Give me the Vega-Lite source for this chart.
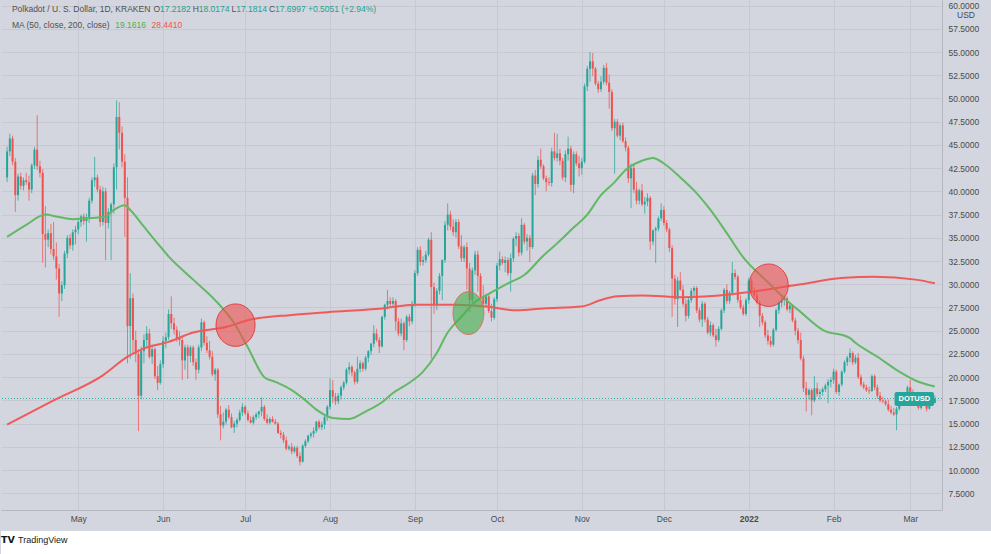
{
"$schema":"https://vega.github.io/schema/vega-lite/v6.json",
"background":"#d3d6de",
"padding":0,
"spacing":21,
"bounds":"flush",
"config":{"view":{"stroke":null},"font":"Liberation Sans","axis":{"labelFont":"Liberation Sans","titleFont":"Liberation Sans","labelOverlap":false}},
"datasets":{
"candles":[
{"t":"2021-04-05","o":41.5,"h":44.8,"l":41.0,"c":44.3},
{"t":"2021-04-06","o":44.3,"h":46.2,"l":43.8,"c":45.7},
{"t":"2021-04-07","o":45.7,"h":46.0,"l":42.8,"c":43.2},
{"t":"2021-04-08","o":43.2,"h":43.6,"l":37.8,"c":39.6},
{"t":"2021-04-09","o":39.6,"h":41.9,"l":39.0,"c":41.6},
{"t":"2021-04-10","o":41.6,"h":42.0,"l":40.2,"c":40.6},
{"t":"2021-04-11","o":40.6,"h":41.5,"l":40.1,"c":41.2},
{"t":"2021-04-12","o":41.2,"h":42.0,"l":40.7,"c":41.0},
{"t":"2021-04-13","o":41.0,"h":41.7,"l":39.0,"c":40.2},
{"t":"2021-04-14","o":40.2,"h":43.0,"l":39.8,"c":42.8},
{"t":"2021-04-15","o":42.8,"h":44.8,"l":42.4,"c":44.5},
{"t":"2021-04-16","o":44.5,"h":48.2,"l":42.3,"c":42.7},
{"t":"2021-04-17","o":42.7,"h":43.3,"l":41.5,"c":42.0},
{"t":"2021-04-18","o":42.0,"h":42.4,"l":32.3,"c":35.4},
{"t":"2021-04-19","o":35.4,"h":38.4,"l":31.8,"c":34.8},
{"t":"2021-04-20","o":34.8,"h":35.9,"l":34.0,"c":35.5},
{"t":"2021-04-21","o":35.5,"h":36.5,"l":33.2,"c":33.8},
{"t":"2021-04-22","o":33.8,"h":36.7,"l":32.6,"c":33.0},
{"t":"2021-04-23","o":33.0,"h":34.5,"l":30.5,"c":31.7},
{"t":"2021-04-24","o":31.7,"h":32.2,"l":26.5,"c":29.0},
{"t":"2021-04-25","o":29.0,"h":30.3,"l":28.2,"c":29.9},
{"t":"2021-04-26","o":29.9,"h":33.6,"l":29.5,"c":33.3},
{"t":"2021-04-27","o":33.3,"h":35.3,"l":32.8,"c":35.0},
{"t":"2021-04-28","o":35.0,"h":35.4,"l":33.8,"c":34.2},
{"t":"2021-04-29","o":34.2,"h":35.9,"l":33.6,"c":35.6},
{"t":"2021-04-30","o":35.6,"h":36.3,"l":34.3,"c":35.9},
{"t":"2021-05-01","o":35.9,"h":36.9,"l":35.4,"c":36.7},
{"t":"2021-05-02","o":36.7,"h":37.5,"l":36.2,"c":37.3},
{"t":"2021-05-03","o":37.3,"h":37.6,"l":36.4,"c":36.8},
{"t":"2021-05-04","o":36.8,"h":37.6,"l":34.6,"c":37.2},
{"t":"2021-05-05","o":37.2,"h":39.3,"l":36.6,"c":39.0},
{"t":"2021-05-06","o":39.0,"h":41.5,"l":38.7,"c":41.2},
{"t":"2021-05-07","o":41.2,"h":43.7,"l":40.5,"c":41.5},
{"t":"2021-05-08","o":41.5,"h":41.8,"l":39.9,"c":40.2},
{"t":"2021-05-09","o":40.2,"h":40.6,"l":36.2,"c":36.7},
{"t":"2021-05-10","o":36.7,"h":40.5,"l":36.3,"c":40.0},
{"t":"2021-05-11","o":40.0,"h":40.4,"l":32.6,"c":36.6},
{"t":"2021-05-12","o":36.6,"h":38.2,"l":36.0,"c":37.8},
{"t":"2021-05-13","o":37.8,"h":38.8,"l":32.6,"c":38.6},
{"t":"2021-05-14","o":38.6,"h":43.0,"l":37.6,"c":42.6},
{"t":"2021-05-15","o":42.6,"h":49.8,"l":40.2,"c":48.0},
{"t":"2021-05-16","o":48.0,"h":49.6,"l":44.5,"c":46.3},
{"t":"2021-05-17","o":46.3,"h":47.0,"l":42.6,"c":43.2},
{"t":"2021-05-18","o":43.2,"h":44.0,"l":35.1,"c":39.3},
{"t":"2021-05-19","o":39.3,"h":41.5,"l":21.5,"c":25.5},
{"t":"2021-05-20","o":25.5,"h":31.2,"l":22.0,"c":28.5},
{"t":"2021-05-21","o":28.5,"h":29.0,"l":22.5,"c":24.0},
{"t":"2021-05-22","o":24.0,"h":25.0,"l":21.6,"c":22.5},
{"t":"2021-05-23","o":22.5,"h":23.0,"l":14.2,"c":18.0},
{"t":"2021-05-24","o":18.0,"h":23.3,"l":17.6,"c":22.8},
{"t":"2021-05-25","o":22.8,"h":24.6,"l":21.5,"c":24.0},
{"t":"2021-05-26","o":24.0,"h":25.5,"l":23.3,"c":24.7},
{"t":"2021-05-27","o":24.7,"h":25.2,"l":22.0,"c":22.2},
{"t":"2021-05-28","o":22.2,"h":23.5,"l":21.4,"c":23.0},
{"t":"2021-05-29","o":23.0,"h":23.2,"l":19.8,"c":20.1},
{"t":"2021-05-30","o":20.1,"h":21.2,"l":18.6,"c":19.4},
{"t":"2021-05-31","o":19.4,"h":21.8,"l":19.2,"c":21.4},
{"t":"2021-06-01","o":21.4,"h":24.4,"l":21.0,"c":23.9},
{"t":"2021-06-02","o":23.9,"h":24.8,"l":23.1,"c":24.3},
{"t":"2021-06-03","o":24.3,"h":27.3,"l":24.0,"c":26.8},
{"t":"2021-06-04","o":26.8,"h":28.7,"l":25.2,"c":25.8},
{"t":"2021-06-05","o":25.8,"h":26.4,"l":24.6,"c":25.1},
{"t":"2021-06-06","o":25.1,"h":25.5,"l":23.8,"c":24.2},
{"t":"2021-06-07","o":24.2,"h":24.9,"l":23.4,"c":24.0},
{"t":"2021-06-08","o":24.0,"h":24.3,"l":19.7,"c":21.8},
{"t":"2021-06-09","o":21.8,"h":23.5,"l":20.8,"c":23.2},
{"t":"2021-06-10","o":23.2,"h":23.5,"l":19.8,"c":22.3},
{"t":"2021-06-11","o":22.3,"h":23.4,"l":21.6,"c":23.2},
{"t":"2021-06-12","o":23.2,"h":23.4,"l":21.2,"c":21.6},
{"t":"2021-06-13","o":21.6,"h":22.0,"l":19.7,"c":20.8},
{"t":"2021-06-14","o":20.8,"h":23.5,"l":20.4,"c":23.2},
{"t":"2021-06-15","o":23.2,"h":26.3,"l":22.8,"c":25.9},
{"t":"2021-06-16","o":25.9,"h":26.1,"l":23.4,"c":23.7},
{"t":"2021-06-17","o":23.7,"h":24.4,"l":22.6,"c":22.9},
{"t":"2021-06-18","o":22.9,"h":23.9,"l":21.9,"c":22.2},
{"t":"2021-06-19","o":22.2,"h":22.8,"l":20.1,"c":20.3},
{"t":"2021-06-20","o":20.3,"h":21.0,"l":19.6,"c":20.8},
{"t":"2021-06-21","o":20.8,"h":21.0,"l":15.6,"c":16.0},
{"t":"2021-06-22","o":16.0,"h":16.9,"l":13.2,"c":14.8},
{"t":"2021-06-23","o":14.8,"h":16.2,"l":14.5,"c":15.2},
{"t":"2021-06-24","o":15.2,"h":16.7,"l":14.9,"c":16.5},
{"t":"2021-06-25","o":16.5,"h":17.0,"l":15.5,"c":15.7},
{"t":"2021-06-26","o":15.7,"h":16.1,"l":14.5,"c":14.6},
{"t":"2021-06-27","o":14.6,"h":15.3,"l":14.0,"c":15.0},
{"t":"2021-06-28","o":15.0,"h":15.6,"l":14.6,"c":15.4},
{"t":"2021-06-29","o":15.4,"h":16.5,"l":15.2,"c":16.2},
{"t":"2021-06-30","o":16.2,"h":17.2,"l":15.8,"c":16.8},
{"t":"2021-07-01","o":16.8,"h":17.0,"l":15.9,"c":16.1},
{"t":"2021-07-02","o":16.1,"h":16.4,"l":15.2,"c":15.4},
{"t":"2021-07-03","o":15.4,"h":15.8,"l":15.0,"c":15.1},
{"t":"2021-07-04","o":15.1,"h":15.9,"l":14.9,"c":15.7},
{"t":"2021-07-05","o":15.7,"h":16.2,"l":15.4,"c":16.0},
{"t":"2021-07-06","o":16.0,"h":16.4,"l":15.6,"c":16.3},
{"t":"2021-07-07","o":16.3,"h":17.8,"l":15.8,"c":16.8},
{"t":"2021-07-08","o":16.8,"h":17.0,"l":15.3,"c":15.5},
{"t":"2021-07-09","o":15.5,"h":16.0,"l":14.9,"c":15.1},
{"t":"2021-07-10","o":15.1,"h":15.7,"l":14.9,"c":15.5},
{"t":"2021-07-11","o":15.5,"h":15.8,"l":15.1,"c":15.2},
{"t":"2021-07-12","o":15.2,"h":15.5,"l":14.9,"c":15.0},
{"t":"2021-07-13","o":15.0,"h":15.2,"l":13.9,"c":14.0},
{"t":"2021-07-14","o":14.0,"h":14.3,"l":13.4,"c":13.8},
{"t":"2021-07-15","o":13.8,"h":14.1,"l":12.9,"c":13.2},
{"t":"2021-07-16","o":13.2,"h":13.6,"l":12.1,"c":12.3},
{"t":"2021-07-17","o":12.3,"h":12.7,"l":12.1,"c":12.5},
{"t":"2021-07-18","o":12.5,"h":12.9,"l":11.7,"c":12.0},
{"t":"2021-07-19","o":12.0,"h":12.6,"l":11.8,"c":12.4},
{"t":"2021-07-20","o":12.4,"h":12.6,"l":11.3,"c":11.5},
{"t":"2021-07-21","o":11.5,"h":11.9,"l":10.5,"c":10.9},
{"t":"2021-07-22","o":10.9,"h":12.8,"l":10.8,"c":12.6},
{"t":"2021-07-23","o":12.6,"h":13.3,"l":12.4,"c":13.1},
{"t":"2021-07-24","o":13.1,"h":13.8,"l":12.9,"c":13.7},
{"t":"2021-07-25","o":13.7,"h":14.1,"l":13.4,"c":13.9},
{"t":"2021-07-26","o":13.9,"h":14.6,"l":13.5,"c":14.2},
{"t":"2021-07-27","o":14.2,"h":15.3,"l":14.0,"c":15.2},
{"t":"2021-07-28","o":15.2,"h":15.4,"l":14.4,"c":14.6},
{"t":"2021-07-29","o":14.6,"h":15.2,"l":14.3,"c":14.9},
{"t":"2021-07-30","o":14.9,"h":15.9,"l":14.4,"c":15.7},
{"t":"2021-07-31","o":15.7,"h":17.0,"l":15.3,"c":16.8},
{"t":"2021-08-01","o":16.8,"h":19.9,"l":16.5,"c":18.6},
{"t":"2021-08-02","o":18.6,"h":19.7,"l":17.2,"c":17.9},
{"t":"2021-08-03","o":17.9,"h":18.3,"l":17.0,"c":17.4},
{"t":"2021-08-04","o":17.4,"h":18.3,"l":17.1,"c":18.0},
{"t":"2021-08-05","o":18.0,"h":19.1,"l":17.6,"c":18.9},
{"t":"2021-08-06","o":18.9,"h":19.6,"l":18.6,"c":19.4},
{"t":"2021-08-07","o":19.4,"h":21.0,"l":19.2,"c":20.8},
{"t":"2021-08-08","o":20.8,"h":21.6,"l":20.3,"c":21.1},
{"t":"2021-08-09","o":21.1,"h":21.3,"l":20.1,"c":20.5},
{"t":"2021-08-10","o":20.5,"h":20.7,"l":19.2,"c":19.5},
{"t":"2021-08-11","o":19.5,"h":22.2,"l":19.3,"c":20.9},
{"t":"2021-08-12","o":20.9,"h":21.8,"l":20.5,"c":21.5},
{"t":"2021-08-13","o":21.5,"h":21.7,"l":20.6,"c":20.9},
{"t":"2021-08-14","o":20.9,"h":22.3,"l":20.7,"c":22.1},
{"t":"2021-08-15","o":22.1,"h":22.9,"l":21.6,"c":22.8},
{"t":"2021-08-16","o":22.8,"h":23.7,"l":22.4,"c":23.6},
{"t":"2021-08-17","o":23.6,"h":25.6,"l":23.2,"c":24.7},
{"t":"2021-08-18","o":24.7,"h":25.2,"l":23.8,"c":24.0},
{"t":"2021-08-19","o":24.0,"h":24.3,"l":22.6,"c":23.3},
{"t":"2021-08-20","o":23.3,"h":26.6,"l":23.2,"c":26.5},
{"t":"2021-08-21","o":26.5,"h":27.9,"l":26.2,"c":27.8},
{"t":"2021-08-22","o":27.8,"h":29.4,"l":27.3,"c":28.2},
{"t":"2021-08-23","o":28.2,"h":28.6,"l":27.5,"c":27.9},
{"t":"2021-08-24","o":27.9,"h":28.6,"l":27.5,"c":28.2},
{"t":"2021-08-25","o":28.2,"h":28.4,"l":25.0,"c":26.0},
{"t":"2021-08-26","o":26.0,"h":26.4,"l":24.4,"c":24.7},
{"t":"2021-08-27","o":24.7,"h":26.3,"l":24.4,"c":25.8},
{"t":"2021-08-28","o":25.8,"h":26.0,"l":22.9,"c":24.0},
{"t":"2021-08-29","o":24.0,"h":26.7,"l":23.8,"c":26.5},
{"t":"2021-08-30","o":26.5,"h":26.8,"l":25.5,"c":26.0},
{"t":"2021-08-31","o":26.0,"h":28.2,"l":25.7,"c":27.9},
{"t":"2021-09-01","o":27.9,"h":31.5,"l":27.6,"c":31.2},
{"t":"2021-09-02","o":31.2,"h":34.0,"l":30.9,"c":33.7},
{"t":"2021-09-03","o":33.7,"h":34.1,"l":32.0,"c":32.4},
{"t":"2021-09-04","o":32.4,"h":33.0,"l":32.0,"c":32.6},
{"t":"2021-09-05","o":32.6,"h":33.6,"l":32.3,"c":33.2},
{"t":"2021-09-06","o":33.2,"h":35.0,"l":33.0,"c":34.8},
{"t":"2021-09-07","o":34.8,"h":35.6,"l":22.0,"c":29.7},
{"t":"2021-09-08","o":29.7,"h":30.2,"l":26.8,"c":27.8},
{"t":"2021-09-09","o":27.8,"h":29.6,"l":27.2,"c":29.3},
{"t":"2021-09-10","o":29.3,"h":31.2,"l":28.9,"c":30.9},
{"t":"2021-09-11","o":30.9,"h":32.7,"l":28.3,"c":32.6},
{"t":"2021-09-12","o":32.6,"h":36.8,"l":32.3,"c":36.4},
{"t":"2021-09-13","o":36.4,"h":38.7,"l":35.8,"c":37.5},
{"t":"2021-09-14","o":37.5,"h":37.9,"l":35.8,"c":36.2},
{"t":"2021-09-15","o":36.2,"h":37.0,"l":35.2,"c":35.6},
{"t":"2021-09-16","o":35.6,"h":37.0,"l":35.0,"c":36.7},
{"t":"2021-09-17","o":36.7,"h":37.0,"l":33.8,"c":34.1},
{"t":"2021-09-18","o":34.1,"h":35.3,"l":32.4,"c":32.8},
{"t":"2021-09-19","o":32.8,"h":34.2,"l":32.4,"c":34.0},
{"t":"2021-09-20","o":34.0,"h":34.5,"l":29.4,"c":31.7},
{"t":"2021-09-21","o":31.7,"h":32.3,"l":27.0,"c":28.3},
{"t":"2021-09-22","o":28.3,"h":31.8,"l":28.0,"c":31.5},
{"t":"2021-09-23","o":31.5,"h":33.6,"l":31.0,"c":33.2},
{"t":"2021-09-24","o":33.2,"h":33.6,"l":29.2,"c":30.9},
{"t":"2021-09-25","o":30.9,"h":31.2,"l":28.3,"c":28.6},
{"t":"2021-09-26","o":28.6,"h":29.9,"l":27.5,"c":27.9},
{"t":"2021-09-27","o":27.9,"h":29.0,"l":27.6,"c":28.7},
{"t":"2021-09-28","o":28.7,"h":28.9,"l":26.9,"c":27.1},
{"t":"2021-09-29","o":27.1,"h":27.9,"l":26.0,"c":26.4},
{"t":"2021-09-30","o":26.4,"h":28.6,"l":26.2,"c":28.4},
{"t":"2021-10-01","o":28.4,"h":32.3,"l":28.1,"c":32.0},
{"t":"2021-10-02","o":32.0,"h":33.5,"l":31.5,"c":32.7},
{"t":"2021-10-03","o":32.7,"h":33.0,"l":32.1,"c":32.3},
{"t":"2021-10-04","o":32.3,"h":33.0,"l":31.3,"c":32.6},
{"t":"2021-10-05","o":32.6,"h":32.9,"l":30.9,"c":31.2},
{"t":"2021-10-06","o":31.2,"h":33.3,"l":29.2,"c":32.8},
{"t":"2021-10-07","o":32.8,"h":35.1,"l":32.4,"c":34.9},
{"t":"2021-10-08","o":34.9,"h":35.6,"l":34.1,"c":35.2},
{"t":"2021-10-09","o":35.2,"h":35.5,"l":33.0,"c":33.4},
{"t":"2021-10-10","o":33.4,"h":37.1,"l":33.1,"c":36.4},
{"t":"2021-10-11","o":36.4,"h":36.6,"l":34.3,"c":34.6},
{"t":"2021-10-12","o":34.6,"h":35.4,"l":33.6,"c":35.0},
{"t":"2021-10-13","o":35.0,"h":35.3,"l":32.4,"c":34.0},
{"t":"2021-10-14","o":34.0,"h":42.0,"l":33.8,"c":41.7},
{"t":"2021-10-15","o":41.7,"h":42.3,"l":39.6,"c":40.8},
{"t":"2021-10-16","o":40.8,"h":43.8,"l":40.4,"c":43.4},
{"t":"2021-10-17","o":43.4,"h":44.6,"l":42.4,"c":42.7},
{"t":"2021-10-18","o":42.7,"h":42.9,"l":41.2,"c":41.4},
{"t":"2021-10-19","o":41.4,"h":41.7,"l":40.0,"c":41.0},
{"t":"2021-10-20","o":41.0,"h":41.5,"l":40.6,"c":40.9},
{"t":"2021-10-21","o":40.9,"h":44.7,"l":40.5,"c":44.3},
{"t":"2021-10-22","o":44.3,"h":46.3,"l":43.3,"c":43.6},
{"t":"2021-10-23","o":43.6,"h":46.2,"l":43.2,"c":44.1},
{"t":"2021-10-24","o":44.1,"h":44.6,"l":42.8,"c":43.3},
{"t":"2021-10-25","o":43.3,"h":43.6,"l":41.2,"c":41.5},
{"t":"2021-10-26","o":41.5,"h":44.4,"l":41.0,"c":44.0},
{"t":"2021-10-27","o":44.0,"h":45.9,"l":43.3,"c":44.6},
{"t":"2021-10-28","o":44.6,"h":44.9,"l":40.0,"c":40.7},
{"t":"2021-10-29","o":40.7,"h":44.3,"l":39.8,"c":44.0},
{"t":"2021-10-30","o":44.0,"h":44.3,"l":42.7,"c":43.0},
{"t":"2021-10-31","o":43.0,"h":43.8,"l":41.6,"c":42.5},
{"t":"2021-11-01","o":42.5,"h":43.6,"l":41.8,"c":43.2},
{"t":"2021-11-02","o":43.2,"h":51.6,"l":43.0,"c":51.3},
{"t":"2021-11-03","o":51.3,"h":53.5,"l":50.8,"c":53.2},
{"t":"2021-11-04","o":53.2,"h":55.0,"l":51.8,"c":54.0},
{"t":"2021-11-05","o":54.0,"h":54.9,"l":52.4,"c":53.2},
{"t":"2021-11-06","o":53.2,"h":53.4,"l":51.4,"c":51.6},
{"t":"2021-11-07","o":51.6,"h":51.9,"l":50.6,"c":51.0},
{"t":"2021-11-08","o":51.0,"h":52.4,"l":50.7,"c":51.8},
{"t":"2021-11-09","o":51.8,"h":53.6,"l":51.5,"c":53.3},
{"t":"2021-11-10","o":53.3,"h":53.8,"l":51.4,"c":51.7},
{"t":"2021-11-11","o":51.7,"h":52.6,"l":48.9,"c":50.7},
{"t":"2021-11-12","o":50.7,"h":51.0,"l":46.5,"c":46.8},
{"t":"2021-11-13","o":46.8,"h":47.8,"l":41.9,"c":47.5},
{"t":"2021-11-14","o":47.5,"h":47.8,"l":45.8,"c":46.0},
{"t":"2021-11-15","o":46.0,"h":47.3,"l":45.5,"c":47.1},
{"t":"2021-11-16","o":47.1,"h":47.4,"l":45.2,"c":45.4},
{"t":"2021-11-17","o":45.4,"h":45.8,"l":44.3,"c":44.7},
{"t":"2021-11-18","o":44.7,"h":44.9,"l":40.9,"c":41.4},
{"t":"2021-11-19","o":41.4,"h":43.0,"l":38.2,"c":42.5},
{"t":"2021-11-20","o":42.5,"h":43.0,"l":39.8,"c":40.2},
{"t":"2021-11-21","o":40.2,"h":41.0,"l":38.6,"c":39.0},
{"t":"2021-11-22","o":39.0,"h":40.3,"l":38.6,"c":40.1},
{"t":"2021-11-23","o":40.1,"h":40.8,"l":38.4,"c":38.6},
{"t":"2021-11-24","o":38.6,"h":39.4,"l":37.6,"c":38.9},
{"t":"2021-11-25","o":38.9,"h":39.8,"l":38.4,"c":39.3},
{"t":"2021-11-26","o":39.3,"h":39.5,"l":33.7,"c":34.6},
{"t":"2021-11-27","o":34.6,"h":35.9,"l":34.2,"c":35.8},
{"t":"2021-11-28","o":35.8,"h":36.2,"l":32.3,"c":36.0},
{"t":"2021-11-29","o":36.0,"h":37.3,"l":35.7,"c":37.1},
{"t":"2021-11-30","o":37.1,"h":38.7,"l":36.8,"c":38.0},
{"t":"2021-12-01","o":38.0,"h":38.4,"l":36.3,"c":36.6},
{"t":"2021-12-02","o":36.6,"h":36.9,"l":35.6,"c":35.9},
{"t":"2021-12-03","o":35.9,"h":36.1,"l":33.5,"c":33.9},
{"t":"2021-12-04","o":33.9,"h":34.2,"l":26.5,"c":30.6},
{"t":"2021-12-05","o":30.6,"h":31.0,"l":27.8,"c":28.4},
{"t":"2021-12-06","o":28.4,"h":30.8,"l":25.4,"c":30.4},
{"t":"2021-12-07","o":30.4,"h":31.3,"l":29.3,"c":29.4},
{"t":"2021-12-08","o":29.4,"h":29.9,"l":27.6,"c":27.9},
{"t":"2021-12-09","o":27.9,"h":28.4,"l":26.0,"c":26.6},
{"t":"2021-12-10","o":26.6,"h":28.6,"l":26.3,"c":28.3},
{"t":"2021-12-11","o":28.3,"h":29.6,"l":28.0,"c":29.3},
{"t":"2021-12-12","o":29.3,"h":29.8,"l":28.6,"c":29.6},
{"t":"2021-12-13","o":29.6,"h":29.8,"l":26.9,"c":27.2},
{"t":"2021-12-14","o":27.2,"h":27.5,"l":25.9,"c":26.2},
{"t":"2021-12-15","o":26.2,"h":28.2,"l":25.4,"c":27.9},
{"t":"2021-12-16","o":27.9,"h":28.1,"l":25.9,"c":26.2},
{"t":"2021-12-17","o":26.2,"h":26.5,"l":24.6,"c":24.8},
{"t":"2021-12-18","o":24.8,"h":26.0,"l":24.4,"c":25.6},
{"t":"2021-12-19","o":25.6,"h":25.8,"l":24.3,"c":24.5},
{"t":"2021-12-20","o":24.5,"h":25.2,"l":23.3,"c":24.0},
{"t":"2021-12-21","o":24.0,"h":25.5,"l":23.8,"c":25.2},
{"t":"2021-12-22","o":25.2,"h":27.4,"l":25.0,"c":27.2},
{"t":"2021-12-23","o":27.2,"h":29.6,"l":26.9,"c":29.4},
{"t":"2021-12-24","o":29.4,"h":30.0,"l":27.9,"c":28.2},
{"t":"2021-12-25","o":28.2,"h":29.3,"l":27.9,"c":29.1},
{"t":"2021-12-26","o":29.1,"h":32.4,"l":28.8,"c":31.2},
{"t":"2021-12-27","o":31.2,"h":31.6,"l":30.5,"c":30.8},
{"t":"2021-12-28","o":30.8,"h":31.0,"l":28.0,"c":28.3},
{"t":"2021-12-29","o":28.3,"h":28.8,"l":27.3,"c":27.5},
{"t":"2021-12-30","o":27.5,"h":27.8,"l":26.6,"c":26.8},
{"t":"2021-12-31","o":26.8,"h":28.5,"l":26.6,"c":28.3},
{"t":"2022-01-01","o":28.3,"h":30.7,"l":27.9,"c":30.4},
{"t":"2022-01-02","o":30.4,"h":30.6,"l":29.0,"c":29.2},
{"t":"2022-01-03","o":29.2,"h":29.7,"l":28.5,"c":28.8},
{"t":"2022-01-04","o":28.8,"h":29.4,"l":27.8,"c":28.0},
{"t":"2022-01-05","o":28.0,"h":28.3,"l":25.4,"c":26.6},
{"t":"2022-01-06","o":26.6,"h":26.9,"l":25.6,"c":25.9},
{"t":"2022-01-07","o":25.9,"h":26.1,"l":24.2,"c":24.5},
{"t":"2022-01-08","o":24.5,"h":25.1,"l":23.5,"c":23.9},
{"t":"2022-01-09","o":23.9,"h":24.4,"l":23.2,"c":23.5},
{"t":"2022-01-10","o":23.5,"h":25.3,"l":23.3,"c":25.1},
{"t":"2022-01-11","o":25.1,"h":27.4,"l":24.9,"c":27.2},
{"t":"2022-01-12","o":27.2,"h":28.2,"l":26.8,"c":28.0},
{"t":"2022-01-13","o":28.0,"h":28.6,"l":27.5,"c":28.3},
{"t":"2022-01-14","o":28.3,"h":28.8,"l":27.7,"c":28.5},
{"t":"2022-01-15","o":28.5,"h":28.7,"l":27.1,"c":27.3},
{"t":"2022-01-16","o":27.3,"h":28.0,"l":26.9,"c":27.7},
{"t":"2022-01-17","o":27.7,"h":27.8,"l":25.9,"c":26.1},
{"t":"2022-01-18","o":26.1,"h":26.4,"l":24.5,"c":25.0},
{"t":"2022-01-19","o":25.0,"h":25.3,"l":23.6,"c":24.0},
{"t":"2022-01-20","o":24.0,"h":24.8,"l":21.8,"c":22.0},
{"t":"2022-01-21","o":22.0,"h":22.3,"l":18.4,"c":18.8},
{"t":"2022-01-22","o":18.8,"h":19.5,"l":16.3,"c":18.1},
{"t":"2022-01-23","o":18.1,"h":18.8,"l":17.6,"c":18.6},
{"t":"2022-01-24","o":18.6,"h":18.8,"l":15.9,"c":17.5},
{"t":"2022-01-25","o":17.5,"h":20.1,"l":17.3,"c":18.8},
{"t":"2022-01-26","o":18.8,"h":19.4,"l":17.9,"c":18.2},
{"t":"2022-01-27","o":18.2,"h":18.7,"l":17.6,"c":18.4},
{"t":"2022-01-28","o":18.4,"h":18.9,"l":18.0,"c":18.7},
{"t":"2022-01-29","o":18.7,"h":19.3,"l":18.4,"c":19.1},
{"t":"2022-01-30","o":19.1,"h":19.8,"l":17.2,"c":19.5},
{"t":"2022-01-31","o":19.5,"h":20.0,"l":18.9,"c":19.7},
{"t":"2022-02-01","o":19.7,"h":20.9,"l":19.3,"c":20.6},
{"t":"2022-02-02","o":20.6,"h":20.8,"l":18.2,"c":18.4},
{"t":"2022-02-03","o":18.4,"h":19.3,"l":18.0,"c":19.2},
{"t":"2022-02-04","o":19.2,"h":20.7,"l":19.0,"c":20.6},
{"t":"2022-02-05","o":20.6,"h":21.8,"l":20.4,"c":21.6},
{"t":"2022-02-06","o":21.6,"h":22.3,"l":21.2,"c":22.1},
{"t":"2022-02-07","o":22.1,"h":23.1,"l":21.6,"c":22.6},
{"t":"2022-02-08","o":22.6,"h":22.8,"l":21.3,"c":21.6},
{"t":"2022-02-09","o":21.6,"h":22.4,"l":21.4,"c":22.1},
{"t":"2022-02-10","o":22.1,"h":22.6,"l":19.8,"c":20.0},
{"t":"2022-02-11","o":20.0,"h":20.3,"l":19.0,"c":19.2},
{"t":"2022-02-12","o":19.2,"h":19.5,"l":18.7,"c":18.9},
{"t":"2022-02-13","o":18.9,"h":19.2,"l":18.4,"c":18.6},
{"t":"2022-02-14","o":18.6,"h":19.0,"l":18.2,"c":18.5},
{"t":"2022-02-15","o":18.5,"h":20.3,"l":18.4,"c":20.1},
{"t":"2022-02-16","o":20.1,"h":20.3,"l":18.6,"c":18.9},
{"t":"2022-02-17","o":18.9,"h":19.2,"l":17.7,"c":18.0},
{"t":"2022-02-18","o":18.0,"h":18.4,"l":17.3,"c":17.5},
{"t":"2022-02-19","o":17.5,"h":17.9,"l":17.2,"c":17.4},
{"t":"2022-02-20","o":17.4,"h":17.6,"l":16.9,"c":17.1},
{"t":"2022-02-21","o":17.1,"h":17.6,"l":16.3,"c":16.5},
{"t":"2022-02-22","o":16.5,"h":16.9,"l":16.0,"c":16.2},
{"t":"2022-02-23","o":16.2,"h":16.7,"l":15.8,"c":16.0},
{"t":"2022-02-24","o":16.0,"h":16.8,"l":14.3,"c":16.6},
{"t":"2022-02-25","o":16.6,"h":18.1,"l":16.4,"c":17.9},
{"t":"2022-02-26","o":17.9,"h":18.3,"l":17.4,"c":17.8},
{"t":"2022-02-27","o":17.8,"h":18.0,"l":16.9,"c":17.2},
{"t":"2022-02-28","o":17.2,"h":19.1,"l":17.0,"c":18.9},
{"t":"2022-03-01","o":18.9,"h":19.7,"l":18.2,"c":18.4},
{"t":"2022-03-02","o":18.4,"h":18.7,"l":17.8,"c":18.0},
{"t":"2022-03-03","o":18.0,"h":18.4,"l":17.3,"c":17.5},
{"t":"2022-03-04","o":17.5,"h":17.6,"l":16.5,"c":16.7},
{"t":"2022-03-05","o":16.7,"h":17.5,"l":16.5,"c":17.3},
{"t":"2022-03-06","o":17.3,"h":17.5,"l":16.9,"c":17.0},
{"t":"2022-03-07","o":17.0,"h":17.3,"l":16.3,"c":16.6},
{"t":"2022-03-08","o":16.6,"h":17.6,"l":16.5,"c":17.4},
{"t":"2022-03-09","o":17.4,"h":17.8,"l":16.9,"c":17.2},
{"t":"2022-03-10","o":17.2182,"h":18.0174,"l":17.1814,"c":17.6997}
],
"ma50":[
{"t":"2021-04-05","v":35.1},{"t":"2021-04-12","v":36.4},{"t":"2021-04-19","v":37.5},{"t":"2021-04-23","v":37.3},{"t":"2021-04-29","v":37.0},{"t":"2021-05-04","v":37.1},{"t":"2021-05-11","v":37.3},{"t":"2021-05-14","v":38.0},{"t":"2021-05-18","v":38.5},{"t":"2021-05-20","v":38.0},{"t":"2021-05-25","v":36.2},{"t":"2021-05-30","v":34.4},{"t":"2021-06-03","v":33.0},{"t":"2021-06-12","v":30.5},{"t":"2021-06-20","v":28.3},{"t":"2021-06-27","v":25.8},{"t":"2021-07-02","v":23.2},{"t":"2021-07-08","v":20.0},{"t":"2021-07-12","v":19.5},{"t":"2021-07-18","v":18.6},{"t":"2021-07-23","v":17.5},{"t":"2021-07-27","v":16.5},{"t":"2021-08-02","v":15.6},{"t":"2021-08-08","v":15.5},{"t":"2021-08-14","v":16.3},{"t":"2021-08-20","v":17.3},{"t":"2021-08-24","v":18.3},{"t":"2021-08-30","v":19.4},{"t":"2021-09-04","v":20.6},{"t":"2021-09-09","v":22.6},{"t":"2021-09-13","v":24.8},{"t":"2021-09-18","v":26.5},{"t":"2021-09-23","v":28.1},{"t":"2021-09-27","v":28.8},{"t":"2021-10-05","v":30.1},{"t":"2021-10-11","v":31.0},{"t":"2021-10-18","v":33.1},{"t":"2021-10-23","v":34.4},{"t":"2021-10-29","v":36.1},{"t":"2021-11-03","v":37.5},{"t":"2021-11-08","v":39.6},{"t":"2021-11-13","v":41.0},{"t":"2021-11-17","v":42.3},{"t":"2021-11-23","v":43.3},{"t":"2021-11-27","v":43.6},{"t":"2021-12-01","v":43.0},{"t":"2021-12-07","v":41.5},{"t":"2021-12-12","v":40.1},{"t":"2021-12-18","v":38.0},{"t":"2021-12-24","v":35.5},{"t":"2021-12-30","v":32.9},{"t":"2022-01-07","v":30.5},{"t":"2022-01-14","v":28.5},{"t":"2022-01-20","v":27.0},{"t":"2022-01-28","v":25.1},{"t":"2022-02-07","v":24.2},{"t":"2022-02-09","v":23.7},{"t":"2022-02-17","v":22.2},{"t":"2022-02-25","v":20.6},{"t":"2022-03-04","v":19.5},{"t":"2022-03-10","v":19.0}
],
"ma200":[
{"t":"2021-04-05","v":14.9},{"t":"2021-04-22","v":17.5},{"t":"2021-05-10","v":20.2},{"t":"2021-05-19","v":22.2},{"t":"2021-05-25","v":23.1},{"t":"2021-06-03","v":23.8},{"t":"2021-06-12","v":24.8},{"t":"2021-06-24","v":25.4},{"t":"2021-07-03","v":26.2},{"t":"2021-07-18","v":26.7},{"t":"2021-07-31","v":27.0},{"t":"2021-08-20","v":27.4},{"t":"2021-09-01","v":27.8},{"t":"2021-09-16","v":27.8},{"t":"2021-09-27","v":27.6},{"t":"2021-10-08","v":27.2},{"t":"2021-10-18","v":27.4},{"t":"2021-11-01","v":27.6},{"t":"2021-11-08","v":28.3},{"t":"2021-11-14","v":28.7},{"t":"2021-11-23","v":28.8},{"t":"2021-12-08","v":28.6},{"t":"2021-12-25","v":28.9},{"t":"2022-01-07","v":29.4},{"t":"2022-01-20","v":30.0},{"t":"2022-02-05","v":30.7},{"t":"2022-02-16","v":30.8},{"t":"2022-03-03","v":30.5},{"t":"2022-03-10","v":30.1}
],
"zones":[
{"t":"2021-06-27T11:30:00Z","v":25.6,"kind":"bear"},
{"t":"2022-01-08T07:00:00Z","v":29.9,"kind":"bear"},
{"t":"2021-09-20T14:00:00Z","v":26.9,"kind":"bull"}
]
},
"vconcat":[
{
"width":941,"height":510,
"layer":[
{"data":{"name":"candles"},
"mark":{"type":"rule","strokeWidth":1,"opacity":0.75},
"encoding":{
"x":{"field":"t","type":"temporal","scale":{"type":"utc","domain":[{"year":2021,"month":4,"date":4,"hours":14,"minutes":24,"utc":true},{"year":2022,"month":3,"date":10,"hours":19,"utc":true}]},
"axis":{"title":null,"orient":"bottom","tickCount":40,"values":[{"year":2021,"month":5,"date":1,"utc":true},{"year":2021,"month":6,"date":1,"utc":true},{"year":2021,"month":7,"date":1,"utc":true},{"year":2021,"month":8,"date":1,"utc":true},{"year":2021,"month":9,"date":1,"utc":true},{"year":2021,"month":10,"date":1,"utc":true},{"year":2021,"month":11,"date":1,"utc":true},{"year":2021,"month":12,"date":1,"utc":true},{"year":2022,"month":1,"date":1,"utc":true},{"year":2022,"month":2,"date":1,"utc":true},{"year":2022,"month":3,"date":1,"utc":true}],
"labelExpr":"utcmonth(datum.value) == 0 ? utcFormat(datum.value, '%Y') : utcFormat(datum.value, '%b')",
"labelFontWeight":{"condition":{"test":"utcmonth(datum.value) == 0","value":"bold"},"value":"normal"},
"grid":true,"gridColor":"#c6c9d1","gridWidth":1,"ticks":false,"tickSize":0,"domain":true,"domainColor":"#b3b7bf","labelPadding":4,"labelFontSize":8.5,"labelColor":"#4a4a4a","labelFlush":false,"labelOverlap":false}},
"y":{"field":"l","type":"quantitative","scale":{"domain":[5.7,60.6],"nice":false,"zero":false},
"axis":{"title":"USD","orient":"right","tickCount":40,"values":[7.5,10,12.5,15,17.5,20,22.5,25,27.5,30,32.5,35,37.5,40,42.5,45,47.5,50,52.5,55,57.5,60],"format":".4f","grid":true,"gridColor":"#c6c9d1","gridWidth":1,"ticks":false,"tickSize":0,"domain":true,"domainColor":"#b3b7bf","labelPadding":6,"labelFontSize":8.5,"labelColor":"#4a4a4a","labelFlush":false,"labelOverlap":false,"labelBound":false,"titleAngle":0,"titleX":23.5,"titleY":14.5,"titleAlign":"center","titleBaseline":"middle","titleFontSize":8.5,"titleFontWeight":"normal","titleColor":"#4a4a4a"}},
"y2":{"field":"h"},
"color":{"condition":{"test":"datum.c >= datum.o","value":"#26a69a"},"value":"#ef5350"}
}},
{"data":{"name":"candles"},
"mark":{"type":"bar","size":2},
"encoding":{
"x":{"field":"t","type":"temporal"},
"y":{"field":"o","type":"quantitative"},
"y2":{"field":"c"},
"color":{"condition":{"test":"datum.c >= datum.o","value":"#26a69a"},"value":"#ef5350"}
}},
{"data":{"values":[{"last":17.6997}]},
"mark":{"type":"rule","color":"#26a69a","strokeDash":[1,2],"strokeWidth":1,"opacity":0.9},
"encoding":{"y":{"field":"last","type":"quantitative"}}},
{"data":{"name":"ma200"},
"mark":{"type":"line","color":"#ef5a5a","strokeWidth":2,"interpolate":"monotone"},
"encoding":{"x":{"field":"t","type":"temporal"},"y":{"field":"v","type":"quantitative"}}},
{"data":{"name":"ma50"},
"mark":{"type":"line","color":"#62b865","strokeWidth":2,"interpolate":"monotone"},
"encoding":{"x":{"field":"t","type":"temporal"},"y":{"field":"v","type":"quantitative"}}},
{"data":{"name":"zones"},
"transform":[{"filter":"datum.kind == 'bear'"}],
"mark":{"type":"point","shape":"M0,-1C0.508,-1,0.92,-0.552,0.92,0C0.92,0.552,0.508,1,0,1C-0.508,1,-0.92,0.552,-0.92,0C-0.92,-0.552,-0.508,-1,0,-1Z","filled":true,"fill":"#ef5350","fillOpacity":0.62,"stroke":"#e0393e","strokeWidth":1,"strokeOpacity":0.9,"opacity":1,"size":1806},
"encoding":{"x":{"field":"t","type":"temporal"},"y":{"field":"v","type":"quantitative"}}},
{"data":{"name":"zones"},
"transform":[{"filter":"datum.kind == 'bull'"}],
"mark":{"type":"point","shape":"M0,-1C0.398,-1,0.72,-0.552,0.72,0C0.72,0.552,0.398,1,0,1C-0.398,1,-0.72,0.552,-0.72,0C-0.72,-0.552,-0.398,-1,0,-1Z","filled":true,"fill":"#4caf50","fillOpacity":0.65,"stroke":"#e06a5a","strokeWidth":1,"strokeOpacity":0.9,"opacity":1,"size":1849},
"encoding":{"x":{"field":"t","type":"temporal"},"y":{"field":"v","type":"quantitative"}}},
{"data":{"values":[{"sym":"DOTUSD","last":17.6997}]},
"mark":{"type":"rect","color":"#26a69a","cornerRadius":2},
"encoding":{
"x":{"datum":{"year":2022,"month":2,"date":23,"hours":7,"utc":true},"type":"temporal"},
"x2":{"datum":{"year":2022,"month":3,"date":9,"hours":17,"utc":true}},
"y":{"datum":18.4,"type":"quantitative"},
"y2":{"datum":16.9}}},
{"data":{"values":[{"sym":"DOTUSD","last":17.6997}]},
"mark":{"type":"text","color":"#ffffff","fontWeight":"bold","fontSize":7.5,"align":"center","baseline":"middle","font":"Liberation Sans"},
"encoding":{
"x":{"datum":{"year":2022,"month":3,"date":2,"hours":12,"utc":true},"type":"temporal"},
"y":{"field":"last","type":"quantitative"},
"text":{"field":"sym"}}},
{"data":{"values":[{"s":"Polkadot / U. S. Dollar, 1D, KRAKEN"}]},
"mark":{"type":"text","color":"#505050","fontSize":8.5,"align":"left","baseline":"middle","font":"Liberation Sans"},
"encoding":{"x":{"datum":{"year":2021,"month":4,"date":6,"hours":18,"utc":true},"type":"temporal"},"y":{"datum":59.63,"type":"quantitative"},"text":{"field":"s"}}},
{"data":{"values":[{"s":"O"}]},
"mark":{"type":"text","color":"#505050","fontSize":8.5,"align":"left","baseline":"middle","font":"Liberation Sans"},
"encoding":{"x":{"datum":{"year":2021,"month":5,"date":28,"hours":11,"utc":true},"type":"temporal"},"y":{"datum":59.63,"type":"quantitative"},"text":{"field":"s"}}},
{"data":{"values":[{"s":"17.2182"}]},
"mark":{"type":"text","color":"#22a290","fontSize":8.5,"align":"left","baseline":"middle","font":"Liberation Sans"},
"encoding":{"x":{"datum":{"year":2021,"month":5,"date":30,"hours":20,"minutes":38,"utc":true},"type":"temporal"},"y":{"datum":59.63,"type":"quantitative"},"text":{"field":"s"}}},
{"data":{"values":[{"s":"H"}]},
"mark":{"type":"text","color":"#505050","fontSize":8.5,"align":"left","baseline":"middle","font":"Liberation Sans"},
"encoding":{"x":{"datum":{"year":2021,"month":6,"date":11,"hours":19,"minutes":41,"utc":true},"type":"temporal"},"y":{"datum":59.63,"type":"quantitative"},"text":{"field":"s"}}},
{"data":{"values":[{"s":"18.0174"}]},
"mark":{"type":"text","color":"#22a290","fontSize":8.5,"align":"left","baseline":"middle","font":"Liberation Sans"},
"encoding":{"x":{"datum":{"year":2021,"month":6,"date":14,"hours":0,"minutes":43,"utc":true},"type":"temporal"},"y":{"datum":59.63,"type":"quantitative"},"text":{"field":"s"}}},
{"data":{"values":[{"s":"L"}]},
"mark":{"type":"text","color":"#505050","fontSize":8.5,"align":"left","baseline":"middle","font":"Liberation Sans"},
"encoding":{"x":{"datum":{"year":2021,"month":6,"date":26,"hours":0,"utc":true},"type":"temporal"},"y":{"datum":59.63,"type":"quantitative"},"text":{"field":"s"}}},
{"data":{"values":[{"s":"17.1814"}]},
"mark":{"type":"text","color":"#22a290","fontSize":8.5,"align":"left","baseline":"middle","font":"Liberation Sans"},
"encoding":{"x":{"datum":{"year":2021,"month":6,"date":27,"hours":16,"minutes":48,"utc":true},"type":"temporal"},"y":{"datum":59.63,"type":"quantitative"},"text":{"field":"s"}}},
{"data":{"values":[{"s":"C"}]},
"mark":{"type":"text","color":"#505050","fontSize":8.5,"align":"left","baseline":"middle","font":"Liberation Sans"},
"encoding":{"x":{"datum":{"year":2021,"month":7,"date":9,"hours":15,"minutes":50,"utc":true},"type":"temporal"},"y":{"datum":59.63,"type":"quantitative"},"text":{"field":"s"}}},
{"data":{"values":[{"s":"17.6997 +0.5051 (+2.94%)"}]},
"mark":{"type":"text","color":"#22a290","fontSize":8.5,"align":"left","baseline":"middle","font":"Liberation Sans"},
"encoding":{"x":{"datum":{"year":2021,"month":7,"date":11,"hours":20,"minutes":53,"utc":true},"type":"temporal"},"y":{"datum":59.63,"type":"quantitative"},"text":{"field":"s"}}},
{"data":{"values":[{"s":"MA (50, close, 200, close)"}]},
"mark":{"type":"text","color":"#505050","fontSize":8.5,"align":"left","baseline":"middle","font":"Liberation Sans"},
"encoding":{"x":{"datum":{"year":2021,"month":4,"date":6,"hours":18,"utc":true},"type":"temporal"},"y":{"datum":57.9,"type":"quantitative"},"text":{"field":"s"}}},
{"data":{"values":[{"s":"19.1616"}]},
"mark":{"type":"text","color":"#4caf50","fontSize":8.5,"align":"left","baseline":"middle","font":"Liberation Sans"},
"encoding":{"x":{"datum":{"year":2021,"month":5,"date":14,"hours":13,"utc":true},"type":"temporal"},"y":{"datum":57.9,"type":"quantitative"},"text":{"field":"s"}}},
{"data":{"values":[{"s":"28.4410"}]},
"mark":{"type":"text","color":"#ef5350","fontSize":8.5,"align":"left","baseline":"middle","font":"Liberation Sans"},
"encoding":{"x":{"datum":{"year":2021,"month":5,"date":27,"hours":18,"utc":true},"type":"temporal"},"y":{"datum":57.9,"type":"quantitative"},"text":{"field":"s"}}}
]
},
{
"width":991,"height":23,
"view":{"fill":"#ffffff","stroke":null},
"data":{"values":[{"brand":"TradingView","logo":"TV"}]},
"layer":[
{"mark":{"type":"text","align":"left","baseline":"middle","fontSize":9,"color":"#131722","font":"Liberation Sans"},
"encoding":{"x":{"value":17},"y":{"value":9},"text":{"field":"brand"}}},
{"mark":{"type":"text","align":"left","baseline":"middle","fontSize":9.5,"fontWeight":"bold","color":"#131722","font":"DejaVu Sans"},
"encoding":{"x":{"value":0},"y":{"value":9},"text":{"field":"logo"}}}
]
}
]
}
